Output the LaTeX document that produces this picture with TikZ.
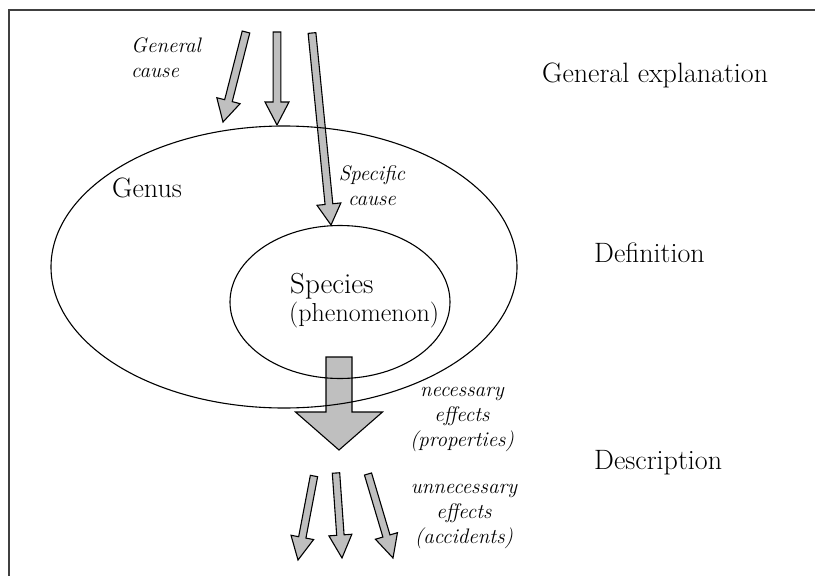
\documentclass[tikz,border=0pt]{standalone}
\usepackage{tikz}
\usetikzlibrary{shapes.geometric,calc}

\definecolor{arrowfill}{gray}{0.75}
\definecolor{framegray}{gray}{0.25}

\tikzset{
  frameline/.style={draw=framegray, line width=1.3pt},
  ring/.style={draw, ellipse, line width=1.1pt, inner sep=0pt},
  arrowbody/.style={draw, fill=arrowfill, line width=1.1pt, line join=miter},
  level/.style={inner sep=0pt, font=\fontsize{28}{32}\selectfont},
  cause/.style={inner sep=0pt, font=\fontsize{21}{25}\selectfont\itshape},
}

% block arrow: from, to, half shaft, half head, head length
\newcommand{\blockarrow}[5]{%
  \coordinate (ba-base) at ($(#2)!#5!(#1)$);
  \draw[arrowbody] ($(#1)!#3!90:(#2)$) -- ($(ba-base)!#3!90:(#2)$)
    -- ($(ba-base)!#4!90:(#2)$) -- (#2) -- ($(ba-base)!#4!-90:(#2)$)
    -- ($(ba-base)!#3!-90:(#2)$) -- ($(#1)!#3!-90:(#2)$) -- cycle;
}

\begin{document}
\begin{tikzpicture}[x=1pt, y=-1pt]
    \useasboundingbox (0,0) rectangle (815,576);
    \draw[frameline] (815,10) -- (9,10) -- (9,576);

    % arrow ends
    \coordinate (gc1) at (246,32);
    \coordinate (gt1) at (223,122);
    \coordinate (gc2) at (277,32);
    \coordinate (gt2) at (277,125);
    \coordinate (sc) at (312,33);
    \coordinate (st) at (331,225);
    \coordinate (ne) at (339,357);
    \coordinate (nt) at (339,450);
    \coordinate (ua1) at (314,476);
    \coordinate (ut1) at (298,560);
    \coordinate (ua2) at (336,473);
    \coordinate (ut2) at (342,558);
    \coordinate (ua3) at (368,474);
    \coordinate (ut3) at (393,558);

    \blockarrow{gc1}{gt1}{3.9pt}{12pt}{22pt}
    \blockarrow{gc2}{gt2}{3.9pt}{12pt}{23pt}
    \blockarrow{sc}{st}{3.9pt}{12pt}{21pt}
    \blockarrow{ne}{nt}{13pt}{43.5pt}{38pt}
    \blockarrow{ua1}{ut1}{3.7pt}{11.5pt}{23pt}
    \blockarrow{ua2}{ut2}{3.7pt}{11.5pt}{23pt}
    \blockarrow{ua3}{ut3}{3.7pt}{11.5pt}{23pt}

    \node(genus)[ring, minimum width=466pt, minimum height=282pt] at (284,267) {};
    \node(species)[ring, minimum width=220pt, minimum height=153pt] at (340,302) {};

    \node(genuslbl)[level, anchor=base west] at (112,197) {Genus};
    \node(specieslbl)[level, anchor=base west, font=\fontsize{29}{32}\selectfont] at (290,293) {Species};
    \node(phen)[level, anchor=base west, font=\fontsize{26}{30}\selectfont] at (289,321) {(phenomenon)};

    % base = baseline of the last line
    \node(gencause)[cause, anchor=base west, align=left] at (131,77) {General\\cause};
    \node(speccause)[cause, anchor=base, align=center] at (372,205) {Specific\\cause};
    \node(neceff)[cause, anchor=base, align=center] at (462,446) {necessary\\effects\\(properties)};
    \node(unneff)[cause, anchor=base, align=center] at (464,543) {unnecessary\\effects\\(accidents)};

    \node(expl)[level, anchor=base west] at (542,82) {General explanation};
    \node(defn)[level, anchor=base west] at (594,262) {Definition};
    \node(descr)[level, anchor=base west] at (594,469) {Description};
\end{tikzpicture}
\end{document}
